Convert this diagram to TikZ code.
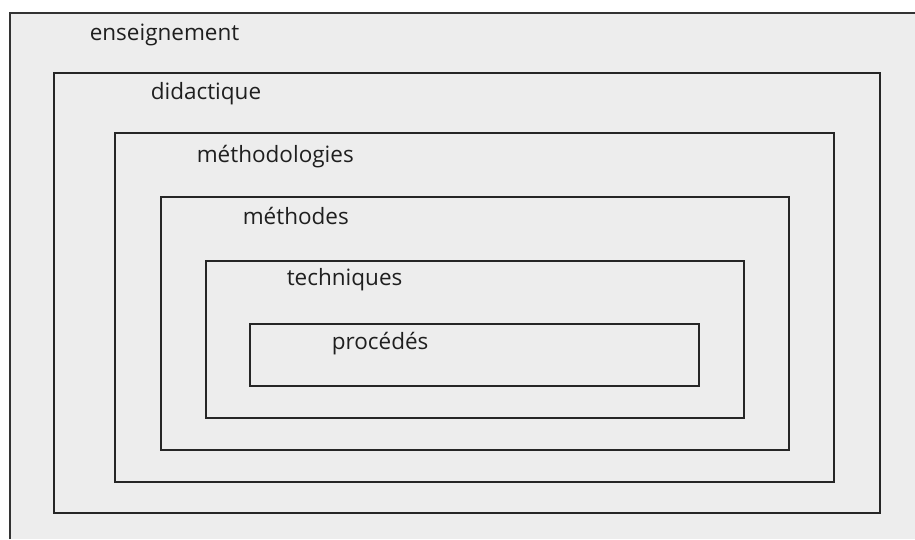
\documentclass[tikz,border=0pt]{standalone}
\usepackage{fontspec}
\setmainfont{Open Sans}
\tikzset{
every picture/.style={
line width=1.6pt
},
box/.style={draw=black!85, inner sep=0pt},
lbl/.style={anchor=base west, inner sep=0pt, text=black!88, font=\fontsize{22.5}{26}\selectfont}
}

\begin{document}
\begin{tikzpicture}[x=1pt, y=1pt]

  \useasboundingbox (0,0) rectangle (915,539);
  \fill [black!7] (10,0) rectangle (915,526);
  \draw [black!80] (10,0) -- (10,526) -- (915,526);

  \node (didac) [box, minimum width=826, minimum height=440] at (467,246) {};
  \node (metlog) [box, minimum width=719, minimum height=349] at (474.5,231.5) {};
  \node (meth) [box, minimum width=628, minimum height=253] at (475,215.5) {};
  \node (tech) [box, minimum width=538, minimum height=157] at (475,199.5) {};
  \node (proc) [box, minimum width=449, minimum height=62] at (474.5,184) {};

  \node (tens) [lbl] at (89,498) {enseignement};
  \node (tdid) [lbl] at (150,439) {didactique};
  \node (tmlg) [lbl] at (196,376) {méthodologies};
  \node (tmet) [lbl] at (242,314) {méthodes};
  \node (ttec) [lbl] at (286,254) {techniques};
  \node (tpro) [lbl] at (331,190) {procédés};

\end{tikzpicture}
\end{document}
